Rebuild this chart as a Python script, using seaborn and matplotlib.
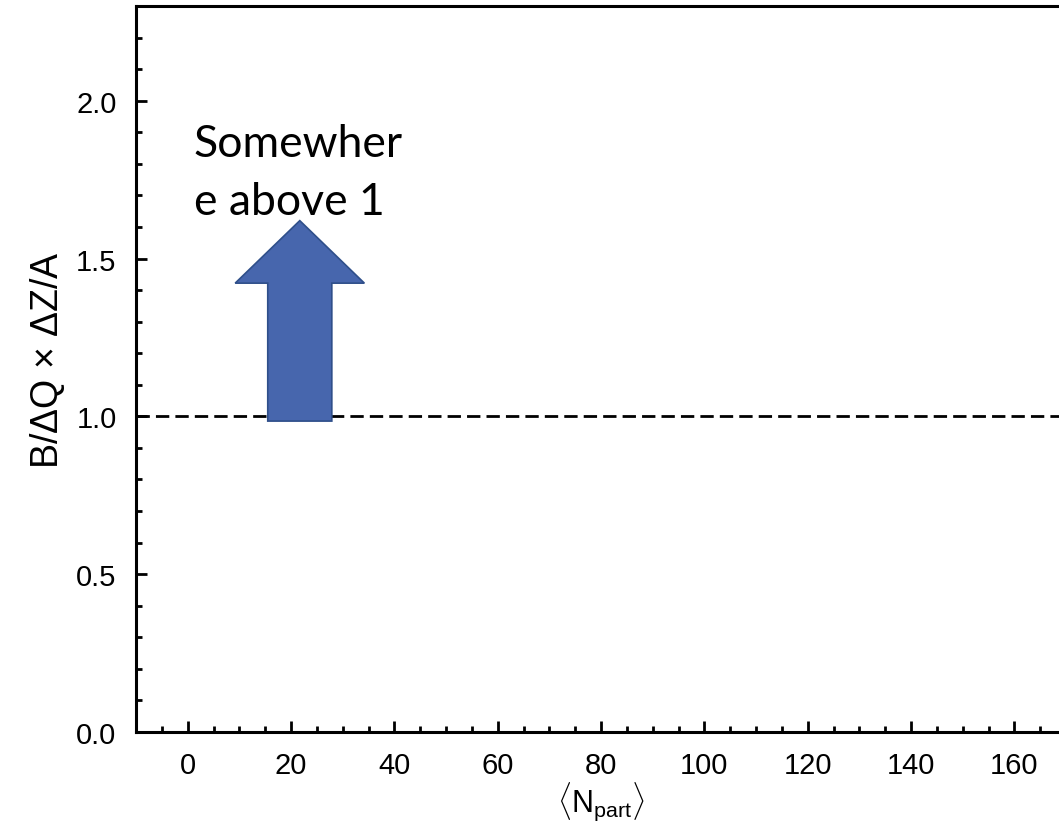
import numpy as np
import pandas as pd
import matplotlib
matplotlib.use("Agg")
import matplotlib.pyplot as plt
from matplotlib.patches import Polygon
from matplotlib.ticker import MultipleLocator
import seaborn as sns

# ---- data ----
x_limits = [-10, 170]
y_limits = [0.0, 2.3]
x_ticks = [0, 20, 40, 60, 80, 100, 120, 140, 160]
y_ticks = [0.0, 0.5, 1.0, 1.5, 2.0]
ref_level = 1.0
note_text = "Somewher\ne above 1"

# arrow (annotation) in data units
arrow_x = 21.7
arrow_base = 0.985
arrow_tip = 1.62
head_base = 1.422
shaft_half = 6.2
head_half = 12.5

sns.set_theme(style="ticks")
plt.rcParams['font.family'] = ['Liberation Sans', 'DejaVu Sans']
plt.rcParams['mathtext.fontset'] = 'custom'
plt.rcParams['mathtext.rm'] = 'Liberation Sans'
plt.rcParams['mathtext.it'] = 'Liberation Sans'
plt.rcParams['text.color'] = 'black'
plt.rcParams['axes.labelcolor'] = 'black'

fig = plt.figure(figsize=(10.59, 8.28), dpi=100)
ax = fig.add_axes([136 / 1059, 95 / 828, 930 / 1059, 726 / 828])

ref_df = pd.DataFrame({"x": x_limits, "y": [ref_level, ref_level]})
sns.lineplot(data=ref_df, x="x", y="y", ax=ax, color="black", lw=2.0,
             dashes=False, linestyle=(0, (4.8, 2.2)))

# big blue arrow
pts = [
    (arrow_x - shaft_half, arrow_base),
    (arrow_x + shaft_half, arrow_base),
    (arrow_x + shaft_half, head_base),
    (arrow_x + head_half, head_base),
    (arrow_x, arrow_tip),
    (arrow_x - head_half, head_base),
    (arrow_x - shaft_half, head_base),
]
ax.add_patch(Polygon(pts, closed=True, facecolor="#4766AD", edgecolor="#2F4F8A",
                     lw=1.2, zorder=3))

ax.text(1.2, 1.641, note_text, fontsize=32, family=["Lato", "DejaVu Sans"],
        ha="left", va="baseline", linespacing=1.51, color="black")

ax.set_xlim(x_limits)
ax.set_ylim(y_limits)
ax.set_xticks(x_ticks)
ax.set_yticks(y_ticks)
ax.set_yticklabels([f"{v:.1f}" for v in y_ticks])
ax.xaxis.set_minor_locator(MultipleLocator(5))
ax.yaxis.set_minor_locator(MultipleLocator(0.1))
ax.tick_params(which="major", direction="in", length=8, width=2, labelsize=21, pad=14,
               top=False, right=False, colors="black")
ax.tick_params(which="minor", direction="in", length=4.5, width=2, top=False, right=False,
               colors="black")
for s in ax.spines.values():
    s.set_linewidth(2.2)
    s.set_color("black")

ax.set_xlabel(r"$\langle \mathrm{N}_{\mathrm{part}} \rangle$", fontsize=22, labelpad=0,
              color="black")
ax.set_ylabel(r"B/$\Delta$Q $\times$ $\Delta$Z/A", fontsize=27, color="black")
ax.yaxis.set_label_coords(-0.0742, 0.514)

fig.savefig("out.png", dpi=100)
